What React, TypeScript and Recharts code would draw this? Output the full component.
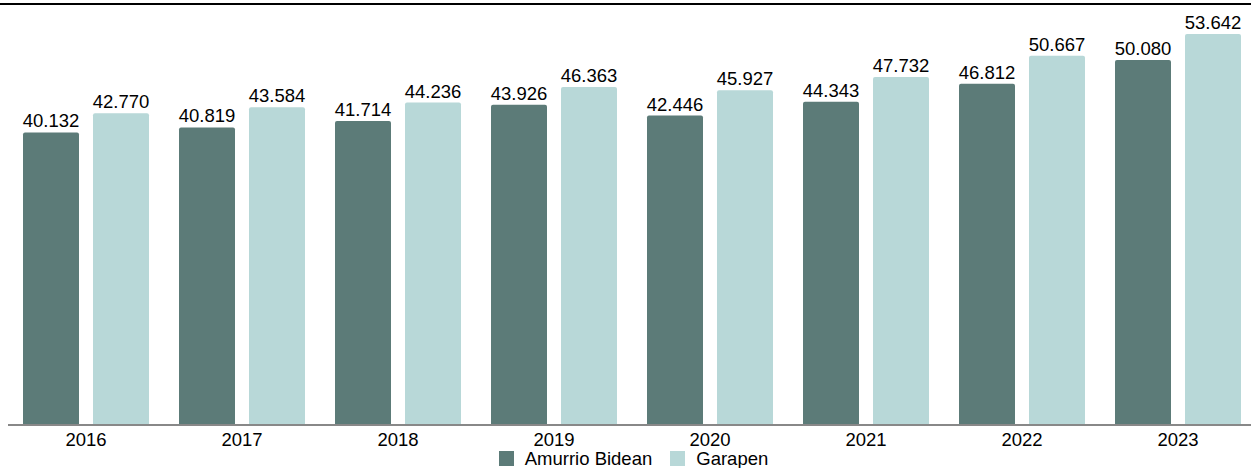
import React from "react";
import { BarChart, Bar, XAxis, YAxis, LabelList } from "recharts";

const years = ["2016", "2017", "2018", "2019", "2020", "2021", "2022", "2023"];
const amurrioBidean = [40132, 40819, 41714, 43926, 42446, 44343, 46812, 50080];
const garapen = [42770, 43584, 44236, 46363, 45927, 47732, 50667, 53642];

const series = [
  { key: "amurrio", name: "Amurrio Bidean", color: "#5c7b78", values: amurrioBidean },
  { key: "garapen", name: "Garapen", color: "#b8d8d8", values: garapen },
];

const data = years.map((y, i) => {
  const row: Record<string, string | number> = { year: y };
  series.forEach((s) => {
    row[s.key] = s.values[i];
  });
  return row;
});

const fmt = (v: number) => {
  const s = Math.round(v).toString();
  return s.replace(/\B(?=(\d{3})+(?!\d))/g, ".");
};

const FONT = "'Liberation Sans', Arial, sans-serif";

export default function App() {
  return (
    <div
      style={{
        position: "absolute",
        left: 0,
        top: 0,
        width: 1251,
        height: 468,
        overflow: "hidden",
        background: "#fff",
        fontFamily: FONT,
      }}
    >
      <div
        style={{
          position: "absolute",
          left: 0,
          top: 3,
          width: 1251,
          height: 2,
          background: "#000",
        }}
      />
      <BarChart
        width={1256}
        height={468}
        data={data}
        margin={{ top: 5, right: 0, bottom: 0, left: 8 }}
        barSize={56}
        barGap={14}
      >
        <XAxis
          dataKey="year"
          tickLine={false}
          axisLine={{ stroke: "#888", strokeWidth: 2 }}
          height={43}
          interval={0}
          tick={{ fill: "#000", fontSize: 18.5, fontFamily: FONT }}
        />
        <YAxis hide domain={[0, 57620]} />
        {series.map((s) => (
          <Bar
            key={s.key}
            dataKey={s.key}
            name={s.name}
            fill={s.color}
            radius={[2, 2, 0, 0]}
            isAnimationActive={false}
          >
            <LabelList
              dataKey={s.key}
              position="top"
              offset={5}
              formatter={(v: any) => fmt(Number(v))}
              style={{ fill: "#000", fontSize: 18.5, fontFamily: FONT }}
            />
          </Bar>
        ))}
      </BarChart>
      <div
        style={{
          position: "absolute",
          top: 449,
          left: 8,
          width: 1251,
          display: "flex",
          justifyContent: "center",
          alignItems: "center",
          fontSize: 18.5,
          lineHeight: "19px",
          color: "#000",
        }}
      >
        {series.map((s, i) => (
          <div
            key={s.key}
            style={{ display: "flex", alignItems: "center", marginLeft: i === 0 ? 0 : 18 }}
          >
            <span
              style={{
                display: "inline-block",
                width: 15,
                height: 15,
                background: s.color,
                marginRight: 11,
              }}
            />
            <span>{s.name}</span>
          </div>
        ))}
      </div>
    </div>
  );
}
